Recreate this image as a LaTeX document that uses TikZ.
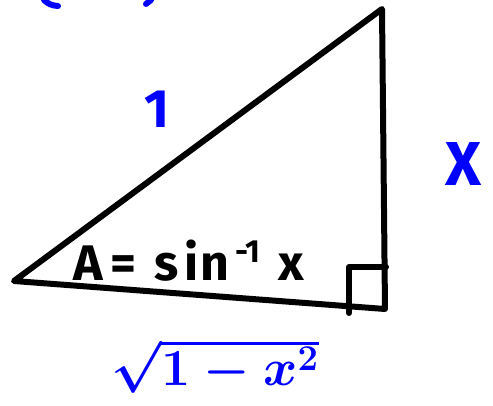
\documentclass[tikz,border=0pt]{standalone}
\usepackage{fix-cm}
\usepackage{fontspec}
\setmainfont{Fira Sans}
\usetikzlibrary{positioning}
\definecolor{pen}{RGB}{0,0,255}
\tikzset{
  side/.style={draw, line width=6pt, line join=round, line cap=round},
  ink/.style={draw=pen, line width=6pt, line cap=round},
  lbl/.style={text=pen, inner sep=0pt, font=\fontsize{54}{60}\selectfont\bfseries},
  angle/.style={inner sep=0pt, font=\fontsize{50}{58}\selectfont\bfseries}
}
\begin{document}
\begin{tikzpicture}[x=1pt, y=-1pt]
    \useasboundingbox (0,0) rectangle (493,406);
    \coordinate (tip) at (14,281);
    \coordinate (top) at (382,9);
    \coordinate (corner) at (385,309);
    \coordinate (boxa) at (349,313);
    \coordinate (boxb) at (349,267);
    \coordinate (boxc) at (386,267);

    \draw[side] (tip) -- (top) -- (corner) -- cycle;
    \draw[side] (boxa) -- (boxb) -- (boxc);

    \node[lbl] (hyp) at (157,109) {1};
    \node[lbl, font=\fontsize{62}{70}\selectfont\bfseries] (opp) at (464,164) {X};
    \node[lbl, font=\fontsize{52}{60}\selectfont\boldmath] (adj) at (215,366) {$\sqrt{1-x^2}$};
    \node[angle, anchor=base west] (ang) at (73,280) {A\hspace{8pt}=\hspace{18pt}s\hspace{6pt}i\hspace{2pt}n\raisebox{0.35em}{\fontsize{32}{32}\selectfont\bfseries\,-1}\hspace{18pt}x};

    % cut-off strokes at the top edge
    \coordinate (ca) at (44,0);
    \coordinate (cb) at (58,6);
    \coordinate (da) at (151,0);
    \coordinate (db) at (146,4);
    \draw[ink] (ca) to[bend right=20] (cb);
    \draw[ink] (da) -- (db);
\end{tikzpicture}
\end{document}
